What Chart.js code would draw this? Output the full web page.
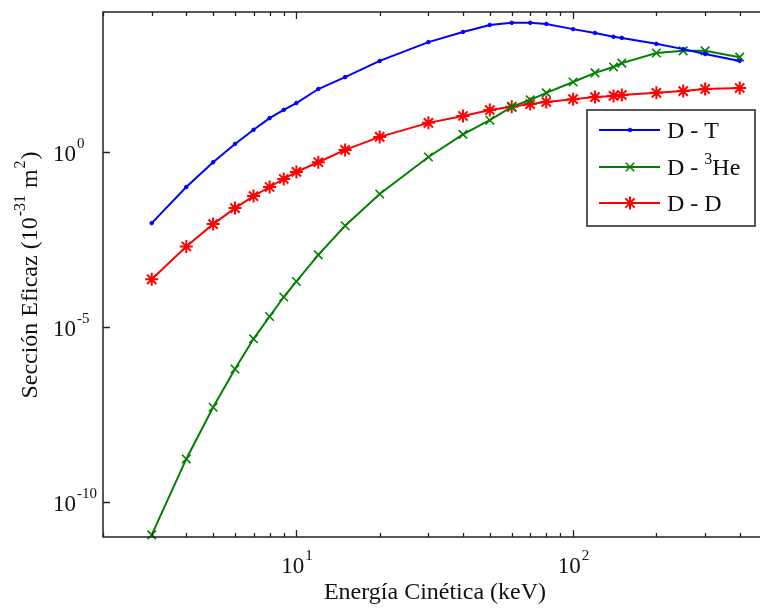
<!DOCTYPE html>
<html>
<head>
<meta charset="utf-8">
<script src="https://cdn.jsdelivr.net/npm/chart.js@4"></script>
<style>
  html, body { margin: 0; padding: 0; background: #fff; overflow: hidden; }
</style>
</head>
<body>
<canvas id="sigmaChart" width="775" height="610"></canvas>
<script>
// energies in keV, cross sections in units of 1e-31 m^2
const energies = [3, 4, 5, 6, 7, 8, 9, 10, 12, 15, 20, 30, 40, 50, 60, 70, 80, 100, 120, 140, 150, 200, 250, 300, 400];
const sigmaDT = [0.0093, 0.1, 0.51, 1.7, 4.3, 9.3, 16, 25, 63, 138, 400, 1380, 2690, 4270, 4900, 4900, 4570, 3240, 2510, 1950, 1820, 1230, 870, 630, 400];
const sigmaDHe3 = [1.15e-11, 1.7e-9, 5.1e-8, 6.3e-7, 4.6e-6, 2.0e-5, 7.2e-5, 2.0e-4, 1.15e-3, 7.8e-3, 0.063, 0.72, 3.2, 8.1, 19.5, 31, 49, 100, 182, 269, 347, 676, 776, 776, 513];
const sigmaDD = [2.3e-4, 2.0e-3, 8.7e-3, 0.025, 0.055, 0.1, 0.17, 0.27, 0.51, 1.15, 2.7, 6.8, 10.7, 15.8, 19.5, 23.4, 26.9, 32.4, 37, 40, 42.7, 49, 55, 63, 67.6];

const xMajorTicks = [10, 100];
const xTickExponents = ["1", "2"];
const xMinorTicks = [2, 3, 4, 5, 6, 7, 8, 9, 20, 30, 40, 50, 60, 70, 80, 90, 200, 300, 400];
const yMajorTicks = [1e-10, 1e-5, 1];
const yTickExponents = ["-10", "-5", "0"];

const FONT = "'Liberation Serif', 'Times New Roman', serif";
const BIG = 23, SMALL = 15;

// "10" followed by a raised exponent
function drawPower(ctx, exp, x, y, align) {
  ctx.font = `${BIG}px ${FONT}`;
  const wBase = ctx.measureText("10").width;
  ctx.font = `${SMALL}px ${FONT}`;
  const wExp = ctx.measureText(exp).width;
  let left = x;
  if (align === "center") left = x - (wBase + wExp) / 2;
  ctx.textAlign = "left";
  ctx.textBaseline = "alphabetic";
  ctx.font = `${BIG}px ${FONT}`;
  ctx.fillText("10", left, y);
  ctx.font = `${SMALL}px ${FONT}`;
  ctx.fillText(exp, left + wBase + 1, y - 13);
}

const frameAndLabels = {
  id: "frameAndLabels",
  afterDraw(chart) {
    const { ctx, chartArea: a, scales: { x, y } } = chart;
    ctx.save();
    ctx.strokeStyle = "#222";
    ctx.lineWidth = 1.5;
    ctx.beginPath();
    ctx.moveTo(a.right + 10, a.top);
    ctx.lineTo(a.left, a.top);
    ctx.lineTo(a.left, a.bottom);
    ctx.lineTo(a.right + 10, a.bottom);
    ctx.stroke();

    // inward ticks, mirrored on the top edge
    ctx.lineWidth = 1.3;
    ctx.beginPath();
    xMinorTicks.forEach(v => {
      const px = Math.round(x.getPixelForValue(v)) + 0.5;
      ctx.moveTo(px, a.bottom); ctx.lineTo(px, a.bottom - 4);
      ctx.moveTo(px, a.top); ctx.lineTo(px, a.top + 4);
    });
    xMajorTicks.forEach(v => {
      const px = Math.round(x.getPixelForValue(v)) + 0.5;
      ctx.moveTo(px, a.bottom); ctx.lineTo(px, a.bottom - 7);
      ctx.moveTo(px, a.top); ctx.lineTo(px, a.top + 7);
    });
    yMajorTicks.forEach(v => {
      const py = Math.round(y.getPixelForValue(v)) + 0.5;
      ctx.moveTo(a.left, py); ctx.lineTo(a.left + 7, py);
    });
    ctx.stroke();

    ctx.fillStyle = "#111";
    xMajorTicks.forEach((v, i) => {
      drawPower(ctx, xTickExponents[i], x.getPixelForValue(v), a.bottom + 36, "center");
    });
    yMajorTicks.forEach((v, i) => {
      drawPower(ctx, yTickExponents[i], 53, y.getPixelForValue(v) + 9, "left");
    });

    // axis titles
    ctx.font = `24px ${FONT}`;
    ctx.textAlign = "center";
    ctx.textBaseline = "alphabetic";
    ctx.fillText("Energía Cinética (keV)", (a.left + 767) / 2, 599);

    ctx.save();
    ctx.translate(37, (a.top + a.bottom) / 2);
    ctx.rotate(-Math.PI / 2);
    const parts = [["Sección Eficaz (10", 24, 0], ["-31", 16, -12], [" m", 24, 0], ["2", 16, -12], [")", 24, 0]];
    let total = 0;
    parts.forEach(p => { ctx.font = `${p[1]}px ${FONT}`; total += ctx.measureText(p[0]).width + 1; });
    let cx = -total / 2;
    ctx.textAlign = "left";
    parts.forEach(p => {
      ctx.font = `${p[1]}px ${FONT}`;
      ctx.fillText(p[0], cx, p[2]);
      cx += ctx.measureText(p[0]).width + 1;
    });
    ctx.restore();

    // legend box
    const lx = 587, ly = 110, lw = 168, lh = 116;
    ctx.fillStyle = "#fff";
    ctx.fillRect(lx, ly, lw, lh);
    ctx.strokeStyle = "#222";
    ctx.lineWidth = 1.5;
    ctx.strokeRect(lx, ly, lw, lh);
    const rows = [130, 167, 203];
    chart.data.datasets.forEach((ds, i) => {
      const ry = rows[i];
      ctx.strokeStyle = ds.borderColor;
      ctx.fillStyle = ds.borderColor;
      ctx.lineWidth = ds.borderWidth;
      ctx.beginPath();
      ctx.moveTo(599, ry); ctx.lineTo(660, ry);
      ctx.stroke();
      ctx.lineWidth = ds.pointBorderWidth;
      Chart.helpers.drawPoint(ctx, {
        pointStyle: ds.pointStyle, radius: ds.pointRadius, borderWidth: ds.pointBorderWidth
      }, 630, ry);
      ctx.fillStyle = "#111";
      ctx.textAlign = "left";
      ctx.textBaseline = "alphabetic";
      ctx.font = `24px ${FONT}`;
      const base = ry + 8;
      if (i === 1) {
        ctx.fillText("D - ", 667, base);
        let w = ctx.measureText("D - ").width;
        ctx.font = `16px ${FONT}`;
        ctx.fillText("3", 667 + w, base - 11);
        w += ctx.measureText("3").width;
        ctx.font = `24px ${FONT}`;
        ctx.fillText("He", 667 + w, base);
      } else {
        ctx.fillText(ds.label, 667, base);
      }
    });
    ctx.restore();
  }
};

new Chart(document.getElementById("sigmaChart"), {
  type: "line",
  data: {
    labels: energies,
    datasets: [
      {
        label: "D - T",
        data: energies.map((e, i) => ({ x: e, y: sigmaDT[i] })),
        borderColor: "#0000ff", backgroundColor: "#0000ff",
        borderWidth: 2, pointStyle: "circle", pointRadius: 1.8, pointBorderWidth: 1
      },
      {
        label: "D - He3",
        data: energies.map((e, i) => ({ x: e, y: sigmaDHe3[i] })),
        borderColor: "#008000", backgroundColor: "#008000",
        borderWidth: 2, pointStyle: "crossRot", pointRadius: 6, pointBorderWidth: 1.6
      },
      {
        label: "D - D",
        data: energies.map((e, i) => ({ x: e, y: sigmaDD[i] })),
        borderColor: "#ff0000", backgroundColor: "#ff0000",
        borderWidth: 2, pointStyle: "star", pointRadius: 6.5, pointBorderWidth: 2
      }
    ]
  },
  options: {
    responsive: false,
    animation: false,
    clip: false,
    layout: { padding: { left: 103, top: 12, right: 5, bottom: 73 } },
    elements: { line: { tension: 0 } },
    scales: {
      x: { type: "logarithmic", min: 2, max: 500, display: false },
      y: { type: "logarithmic", min: 1e-11, max: 1e4, display: false }
    },
    plugins: { legend: { display: false }, tooltip: { enabled: false } }
  },
  plugins: [frameAndLabels]
});
</script>
</body>
</html>
